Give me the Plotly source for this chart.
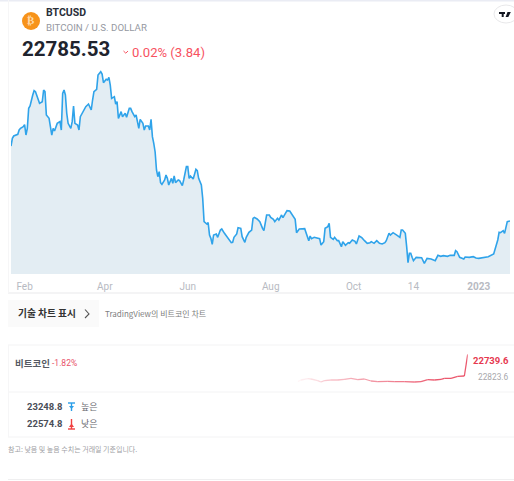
import pandas as pd
import plotly.graph_objects as go

# ---------- data ----------
start_date = "2022-01-22"
btc_days = [0,1,2,5,6,7,9,10,11,12,13,14,16,17,18,20,21,23,24,25,26,28,29,30,31,32,34,36,37,38,39,40,41,42,44,45,46,47,49,50,51,53,55,57,59,60,61,63,64,66,67,68,70,71,72,73,74,76,77,78,79,81,82,84,85,87,88,89,91,92,94,95,97,98,99,101,102,103,104,105,106,107,108,109,110,111,113,114,115,116,118,119,120,121,123,124,126,127,129,130,131,132,134,136,137,138,140,141,142,144,145,146,147,148,149,151,152,154,155,157,159,160,162,163,164,166,167,169,170,172,173,175,177,178,179,181,183,185,186,188,190,191,193,194,196,197,199,200,202,203,205,206,208,209,210,212,216,218,219,220,221,223,225,227,228,230,231,233,234,235,237,238,240,241,243,244,246,248,249,251,253,254,256,258,260,262,264,265,267,269,271,273,275,276,278,279,281,283,284,286,287,288,290,291,292,293,294,295,296,298,300,302,304,306,309,312,314,316,318,321,323,326,327,328,330,331,333,334,337,340,342,344,348,351,355,356,358,359,360,362,363,365,367]
btc_price = [34971,36216,36596,36866,37571,37842,38112,38437,36758,37842,41092,41471,43258,43963,43800,42446,41904,42176,44071,43800,40008,39467,38112,36758,37842,37408,38651,38925,37571,43529,44071,43258,40279,38654,37842,38925,41471,38654,38383,37571,39737,40550,41363,41796,40821,42446,43800,44179,46509,47050,46671,45263,45805,45696,46130,44883,42717,42988,41796,42176,39467,40550,39737,40279,39629,41092,41092,40550,39737,40008,37842,39304,38654,37571,38220,38220,37571,39304,36487,35404,34000,31072,29988,30801,29013,28742,29447,30259,29717,28634,29717,28905,30097,29013,29447,29338,28526,29447,31614,31614,29717,30097,29609,31180,30963,29717,28634,26467,22675,22296,22513,20509,19967,18992,20509,20671,20130,21321,21484,20779,20130,19804,19263,19317,20130,20671,21701,21592,20238,19317,20130,20942,21321,23217,23380,23109,22675,21592,21213,23759,23759,23380,23055,22675,23217,22946,23759,23325,24030,24463,24409,24030,23325,23055,20888,21484,21538,20130,19588,20346,19913,20130,19967,19913,18884,19425,21592,21863,22405,20130,19804,20130,19588,19588,18613,19425,18830,19263,19155,19696,19479,19046,20346,20075,19588,19155,19263,19425,19155,19588,19155,19046,19263,19588,20779,20509,20888,20671,20454,20130,21321,21321,20779,18613,16012,17529,17529,16879,16337,16879,16879,16825,15904,16717,16608,16337,17204,17041,17150,17041,17204,17204,17963,17800,16879,16825,16608,16933,16879,16987,16771,16717,16825,16987,17421,18072,19696,20942,20888,21213,20779,22675,22785]
tick_dates = ["2022-02-01","2022-04-01","2022-06-01","2022-08-01","2022-10-01","2022-11-14","2023-01-01"]
tick_labels = ["Feb","Apr","Jun","Aug","Oct","14","<b>2023</b>"]

spark_idx = [0,1,3,4,6,7,8,10,12,14,16,18,20,22,24,27,29,32,35,37,39,41,43,44,46,48,50,51]
spark_price = [21756,21816,21864,21852,21792,21744,21792,21816,21816,21840,21876,21828,21852,21780,21756,21768,21756,21756,21744,21756,21828,21816,21840,21876,21876,21948,21960,22740]

W, H = 514, 481
X = lambda px: px / W
Y = lambda py: 1 - py / H

dates = pd.to_datetime(start_date) + pd.to_timedelta(btc_days, unit="D")
fig = go.Figure()
fig.add_trace(go.Scatter(x=dates, y=btc_price, mode="lines", fill="tozeroy",
                         fillcolor="#e3edf3", line=dict(color="#2fa3ea", width=1.6),
                         hoverinfo="skip", xaxis="x", yaxis="y"))

n = len(spark_idx)
for i in range(n - 1):
    a = min(0.85, 0.05 + 1.0 * i / (n - 2))
    fig.add_trace(go.Scatter(x=spark_idx[i:i + 2], y=spark_price[i:i + 2], mode="lines",
                             line=dict(color=f"rgba(232,60,85,{a:.2f})", width=1.3),
                             hoverinfo="skip", xaxis="x2", yaxis="y2"))

shapes = []
def rect(x0, y0, x1, y1, fill=None, line=None, lw=1, rx=None):
    shapes.append(dict(type="rect", xref="paper", yref="paper", x0=X(x0), x1=X(x1), y0=Y(y0), y1=Y(y1),
                       fillcolor=fill or "rgba(0,0,0,0)",
                       line=dict(color=line or "rgba(0,0,0,0)", width=lw if line else 0), layer="below"))
def hline(y, x0=8, x1=514, c="#f3f3f4", lw=1):
    shapes.append(dict(type="line", xref="paper", yref="paper", x0=X(x0), x1=X(x1), y0=Y(y), y1=Y(y),
                       line=dict(color=c, width=lw), layer="below"))
def vline(x, y0, y1, c="#f6f6f7"):
    shapes.append(dict(type="line", xref="paper", yref="paper", x0=X(x), x1=X(x), y0=Y(y0), y1=Y(y1),
                       line=dict(color=c, width=1), layer="below"))
def path(pts, fill=None, line=None, lw=1, close=False):
    d = "M " + " L ".join(f"{X(a):.5f},{Y(b):.5f}" for a, b in pts) + (" Z" if close else "")
    shapes.append(dict(type="path", xref="paper", yref="paper", path=d,
                       fillcolor=fill or "rgba(0,0,0,0)",
                       line=dict(color=line or "rgba(0,0,0,0)", width=lw if line else 0)))

hline(0.5, 0, 514, "#eaecf4", 2)
hline(293, 8, 514, "#f1f1f2", 1.5)
vline(8.5, 0, 293)
rect(8, 300, 99, 327, fill="#fafafa")
hline(345, 8, 514)
hline(392, 8, 514)
hline(437, 8, 514)
hline(479.5, 8, 514, "#efeff0")
vline(8.5, 345, 437)

# coin
shapes.append(dict(type="circle", xref="paper", yref="paper", x0=X(22), x1=X(40), y0=Y(12), y1=Y(30),
                   fillcolor="#f7931a", line=dict(width=0)))
# TradingView badge
shapes.append(dict(type="circle", xref="paper", yref="paper", x0=X(494), x1=X(518), y0=Y(5), y1=Y(23),
                   fillcolor="#ffffff", line=dict(color="#e8e8ea", width=1)))
path([(499, 12), (505, 12), (505, 14), (503.7, 14), (503.7, 17), (501.7, 17), (501.7, 14), (499, 14)], fill="#131722", close=True)
path([(507.5, 12), (510.8, 12), (508.3, 17), (505.6, 17)], fill="#131722", close=True)
# change chevron
path([(123.5, 51), (125.8, 53.2), (128, 51)], line="#f7525f", lw=1)
# button chevron
path([(85, 309.5), (89, 314), (85, 318)], line="#555555", lw=1.1)
# pins
path([(68, 403), (75, 403)], line="#2a9ee8", lw=1.4)
path([(71.5, 403), (71.5, 411)], line="#2a9ee8", lw=1.4)
path([(69, 406), (74, 406), (71.5, 409)], fill="#2a9ee8", close=True)
path([(68, 429), (75, 429)], line="#f04040", lw=1.4)
path([(71.5, 419), (71.5, 429)], line="#f04040", lw=1.4)
path([(69, 427), (74, 427), (71.5, 423.5)], fill="#f04040", close=True)

annos = []
LAT = "Roboto, sans-serif"
KR = "Noto Sans CJK KR, sans-serif"
def text(x, y, s, size, color, font=LAT, anchor="left", bold=False):
    annos.append(dict(xref="paper", yref="paper", x=X(x), y=Y(y), text=f"<b>{s}</b>" if bold else s,
                      showarrow=False, xanchor=anchor, yanchor="middle", borderpad=0, borderwidth=0,
                      font=dict(family=font, size=size, color=color)))

text(31, 21, "₿", 11, "#ffd9a8", "DejaVu Sans", "center", True)
text(45.5, 13, "BTCUSD", 10.5, "#2a2e39", bold=True)
text(45.5, 27.5, "BITCOIN / U.S. DOLLAR", 9.7, "#9598a1")
text(22, 49, "22785.53", 20.5, "#20232d", bold=True)
text(132, 52, "0.02% (3.84)", 13.1, "#f7525f")
text(18, 312.5, "기술 차트 표시", 9.7, "#333333", KR, bold=True)
text(105, 313, "TradingView의 비트코인 차트", 8, "#808080", KR)
text(15, 362.5, "비트코인", 9.5, "#555a64", KR, bold=True)
text(52, 362.5, "-1.82%", 8.5, "#e8526a")
text(509, 360, "22739.6", 9.5, "#e63950", anchor="right", bold=True)
text(509, 377, "22823.6", 8.3, "#a8a8ac", anchor="right")
text(27, 406, "23248.8", 9.5, "#4a4e58", bold=True)
text(81, 406, "높은", 9, "#6a6a70", KR)
text(27, 423, "22574.8", 9.5, "#4a4e58", bold=True)
text(81, 423, "낮은", 9, "#6a6a70", KR)
text(8, 449, "참고: 낮음 및 높음 수치는 거래일 기준입니다.", 7, "#a0a0a4", KR)

fig.update_layout(
    width=W, height=H, margin=dict(l=0, r=0, t=0, b=0), showlegend=False,
    paper_bgcolor="#ffffff", plot_bgcolor="rgba(0,0,0,0)",
    shapes=shapes, annotations=annos,
    xaxis=dict(domain=[X(11), X(510)], anchor="y", range=[dates[0], dates[-1]], type="date",
               tickmode="array", tickvals=tick_dates, ticktext=tick_labels, showgrid=False,
               zeroline=False, showline=False, ticks="outside", ticklen=3, tickcolor="rgba(0,0,0,0)",
               tickfont=dict(family=LAT, size=10, color="#b7bac2")),
    yaxis=dict(domain=[Y(274), Y(60)], anchor="x", range=[14172, 48947], visible=False, showgrid=False),
    xaxis2=dict(domain=[X(297.7), X(467.7)], anchor="y2", range=[0, 51], visible=False, showgrid=False),
    yaxis2=dict(domain=[Y(386), Y(350)], anchor="x2", range=[21600, 22896], visible=False, showgrid=False),
)
fig.write_html("out.html", config=dict(displayModeBar=False),
               post_script="document.body.style.margin='0';document.documentElement.style.overflow='hidden';")
